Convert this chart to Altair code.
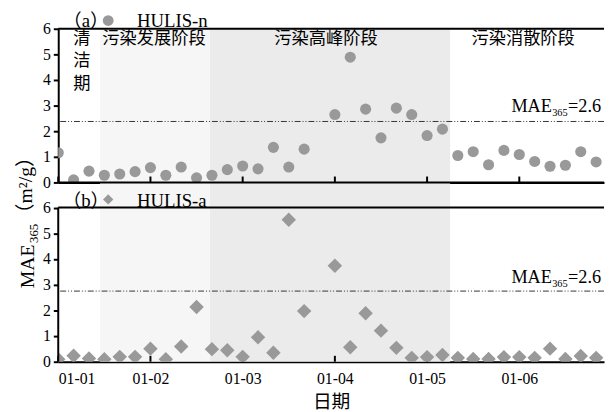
import json
import altair as alt
import pandas as pd

# ---------------- data ----------------
times = [
    "01-01 00:00", "01-01 04:00", "01-01 08:00", "01-01 12:00", "01-01 16:00", "01-01 20:00",
    "01-02 00:00", "01-02 04:00", "01-02 08:00", "01-02 12:00", "01-02 16:00", "01-02 20:00",
    "01-03 00:00", "01-03 04:00", "01-03 08:00", "01-03 12:00", "01-03 16:00",
    "01-04 00:00", "01-04 04:00", "01-04 08:00", "01-04 12:00", "01-04 16:00", "01-04 20:00",
    "01-05 00:00", "01-05 04:00", "01-05 08:00", "01-05 12:00", "01-05 16:00", "01-05 20:00",
    "01-06 00:00", "01-06 04:00", "01-06 08:00", "01-06 12:00", "01-06 16:00", "01-06 20:00",
]
hulis_n = [
    1.16, 0.10, 0.44, 0.28, 0.33, 0.42,
    0.58, 0.28, 0.60, 0.18, 0.28, 0.50,
    0.64, 0.53, 1.37, 0.60, 1.30,
    2.65, 4.89, 2.86, 1.74, 2.90, 2.65,
    1.83, 2.08, 1.05, 1.20, 0.69, 1.25,
    1.09, 0.82, 0.63, 0.67, 1.20, 0.80,
]
hulis_a = [
    0.10, 0.23, 0.13, 0.10, 0.19, 0.19,
    0.51, 0.10, 0.59, 2.13, 0.49, 0.45,
    0.19, 0.95, 0.35, 5.53, 1.97,
    3.74, 0.56, 1.89, 1.21, 0.54, 0.15,
    0.18, 0.26, 0.15, 0.11, 0.11, 0.18,
    0.18, 0.15, 0.51, 0.11, 0.22, 0.15,
]
tick_labels = ["01-01", "01-02", "01-03", "01-04", "01-05", "01-06"]
tick_hours = [0, 24, 48, 72, 96, 120]
y_ticks = [0, 1, 2, 3, 4, 5, 6]

# shaded phases (hours since 01-01 00:00)
phase_start = [10.85, 39.5]
phase_end = [39.5, 102.0]
phase_fill = ["#f6f6f6", "#ebebeb"]

# phase labels
phase_names = ["污染发展阶段", "污染高峰阶段", "污染消散阶段"]
phase_label_h = [24.9, 69.7, 121.0]
clean_label = ["清", "洁", "期"]

thr_top = 2.38
thr_bottom = 2.75

# ---------------- helpers ----------------
SERIF = "Liberation Serif, Noto Sans CJK SC"
CJK = "Noto Sans CJK SC"
GRAY = "#999999"
W = 554
XMAX = 142.05

df = pd.DataFrame({"time": times, "n": hulis_n, "a": hulis_a})
df["h"] = (df["time"].str[3:5].astype(int) - 1) * 24 + df["time"].str[6:8].astype(int)

xs = alt.Scale(domain=[0, XMAX], nice=False, zero=False)
phase_df = pd.DataFrame({"start": phase_start, "end": phase_end, "fill": phase_fill})
ticks_df = pd.DataFrame({"h": tick_hours, "z": [0] * len(tick_hours),
                         "z2": [0.23] * len(tick_hours)})
label_expr = json.dumps(tick_labels) + "[datum.value / 24]"


def one(**kw):
    return pd.DataFrame({k: [v] for k, v in kw.items()})


def panel(col, shape, size, legend_size, ymax, height, thr, mae_y, tag, name,
          legend_y, legend_base, bottom):
    ys = alt.Scale(domain=[0, ymax], nice=False, zero=True)
    yaxis = alt.Axis(values=y_ticks, tickSize=5, tickWidth=2, tickColor="black",
                     domain=not bottom, domainWidth=2, domainColor="black",
                     labelFont=SERIF, labelFontSize=16, labelColor="black",
                     labelPadding=3, labelOverlap=False, title=None, grid=False)
    if bottom:
        xaxis = alt.Axis(values=tick_hours, labelExpr=label_expr, tickSize=0,
                         domainWidth=2, domainColor="black", labelFont=SERIF,
                         labelFontSize=16, labelColor="black", labelPadding=9,
                         title="日期", titleFont=CJK, titleFontSize=19,
                         titleFontWeight="normal", titleColor="black",
                         titlePadding=6, grid=False)
    else:
        xaxis = alt.Axis(labels=False, ticks=False, domainWidth=2,
                         domainColor="black", title=None, grid=False)

    def X(f):
        return alt.X(f, scale=xs, axis=xaxis)

    def Y(f):
        return alt.Y(f, scale=ys, axis=yaxis)

    enc = dict(x=X("h:Q"), y=Y("y:Q"))

    shade = alt.Chart(phase_df).mark_rect().encode(
        x=X("start:Q"), x2="end:Q", color=alt.Color("fill:N", scale=None))
    thr_rule = alt.Chart(one(v=thr)).mark_rule(
        strokeDash=[6, 2, 1, 2, 1, 2], strokeWidth=1, color="#333333"
    ).encode(y=Y("v:Q"))
    border = alt.Chart(one(v=6)).mark_rule(strokeWidth=2, color="black").encode(y=Y("v:Q"))
    inticks = alt.Chart(ticks_df).mark_rule(strokeWidth=2, color="black").encode(
        x=X("h:Q"), y=Y("z:Q"), y2="z2:Q")
    pts = alt.Chart(df).mark_point(
        shape=shape, filled=True, size=size, color=GRAY, opacity=1, clip=True
    ).encode(x=X("h:Q"), y=Y(col + ":Q"))
    leg_pt = alt.Chart(one(h=13.0, y=legend_y)).mark_point(
        shape=shape, filled=True, size=legend_size, color=GRAY, opacity=1
    ).encode(**enc)
    leg_tag = alt.Chart(one(h=7.2, y=legend_base, t=tag)).mark_text(
        font=SERIF, fontSize=19, align="center", baseline="alphabetic", color="black"
    ).encode(text="t:N", **enc)
    leg_name = alt.Chart(one(h=20.5, y=legend_base, t=name)).mark_text(
        font=SERIF, fontSize=19, align="left", baseline="alphabetic", color="black"
    ).encode(text="t:N", **enc)

    mae_kw = dict(baseline="alphabetic", align="right", color="black", font=SERIF)
    mae_df = one(h=141.3, y=mae_y)
    mae1 = alt.Chart(mae_df).mark_text(text="=2.6", fontSize=18.5, **mae_kw).encode(**enc)
    mae2 = alt.Chart(mae_df).mark_text(text="365", fontSize=10.5, dx=-34, dy=4, **mae_kw).encode(**enc)
    mae3 = alt.Chart(mae_df).mark_text(text="MAE", fontSize=18.5, dx=-50, **mae_kw).encode(**enc)

    layers = [shade, thr_rule, border, inticks, pts, leg_pt, leg_tag, leg_name, mae1, mae2, mae3]

    if bottom:
        left_line = alt.Chart(one(h=0, y=0, y2=6)).mark_rule(strokeWidth=2, color="black").encode(
            y2="y2:Q", **enc)
        top_line = alt.Chart(one(v=ymax)).mark_rule(strokeWidth=2, color="black").encode(y=Y("v:Q"))
        # rotated y title: MAE_365 (m²/g)
        tdf = one(h=0, y=2.86)
        tkw = dict(angle=270, align="left", baseline="alphabetic", color="black", font=SERIF)
        t1 = alt.Chart(tdf).mark_text(text="MAE", fontSize=20, dy=-25, **tkw).encode(**enc)
        t2 = alt.Chart(tdf).mark_text(text="365", fontSize=13, dx=46, dy=-21, **tkw).encode(**enc)
        t3 = alt.Chart(tdf).mark_text(text="（m²/g）", fontSize=20, dx=66, dy=-27, **tkw).encode(**enc)
        layers += [left_line, top_line, t1, t2, t3]
    else:
        names_df = pd.DataFrame({"h": phase_label_h, "t": phase_names, "y": [5.59] * 3})
        pn = alt.Chart(names_df).mark_text(
            font=CJK, fontSize=17.5, align="center", baseline="middle", color="black"
        ).encode(text="t:N", **enc)
        clean = alt.Chart(one(h=6.15, y=5.59)).mark_text(
            text=clean_label, font=CJK, fontSize=17.5, lineHeight=22.5, align="center",
            baseline="middle", color="black"
        ).encode(**enc)
        layers += [pn, clean]

    return alt.layer(*layers).properties(width=W, height=height)


top = panel("n", "circle", 127, 120, 6, 156, thr_top, 2.74, "（a）", "HULIS-n", 6.32, 6.05, False)
bottom = panel("a", "diamond", 215, 110, 6.98, 182, thr_bottom, 3.07, "（b）", "HULIS-a", 6.32, 6.04, True)

chart = alt.VConcatChart(vconcat=[top, bottom], spacing=0, bounds="flush").properties(
    padding={"left": 7, "top": 1, "right": 0, "bottom": 0},
    background="white",
).configure_view(stroke=None)

chart.save("out.html", embed_options={"renderer": "svg", "actions": False})
